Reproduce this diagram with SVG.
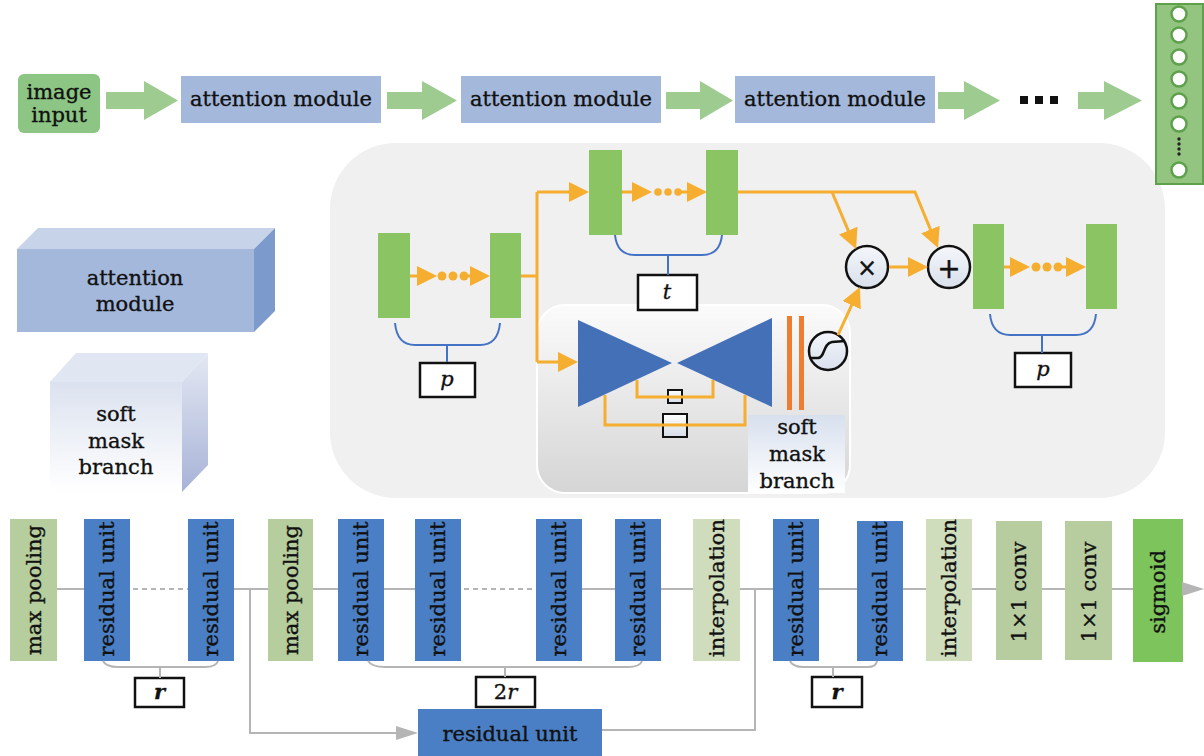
<svg xmlns="http://www.w3.org/2000/svg" width="1204" height="756" viewBox="0 0 1204 756">
<style>
text{font-family:"DejaVu Serif","Liberation Serif",serif;font-size:21px;fill:#111;stroke:#111;stroke-width:0.35;}
.c{text-anchor:middle;}
.v{text-anchor:middle;dominant-baseline:central;}
.it{font-style:italic;}
.bigarrow{fill:#9dcb90;}
.topbox{fill:#a4b8dc;}
.gbar{fill:#8bc463;}
.ol{stroke:#f5ae2f;stroke-width:3;fill:none;}
.od{fill:#f5ae2f;}
.br{stroke:#4472c4;stroke-width:2;fill:none;}
.lbl{fill:#fff;stroke:#111;stroke-width:2.5;}
.gl{stroke:#b5b5b5;stroke-width:2;fill:none;}
.gd{stroke:#b5b5b5;stroke-width:2;fill:none;stroke-dasharray:5 4;}
.ru{fill:#4a7fc5;}
.mp{fill:#b6cd9d;}
.ip{fill:#cfddbd;}
.cv{fill:#b7cda0;}
.sg{fill:#7ec45c;}
.op{fill:url(#opg);stroke:#111;stroke-width:2.5;}
</style>
<defs>
<marker id="oa" markerUnits="userSpaceOnUse" markerWidth="20" markerHeight="20" refX="16" refY="10" orient="auto"><path d="M0,0 L20,10 L0,20 z" fill="#f5ae2f"/></marker>
<marker id="ga" markerUnits="userSpaceOnUse" markerWidth="22" markerHeight="14" refX="18" refY="7" orient="auto"><path d="M0,0 L22,7 L0,14 z" fill="#b5b5b5"/></marker>
<linearGradient id="inner" x1="0" y1="0" x2="0" y2="1"><stop offset="0" stop-color="#fbfbfb"/><stop offset="1" stop-color="#d5d5d5"/></linearGradient>
<linearGradient id="smb" x1="0" y1="0" x2="0" y2="1"><stop offset="0" stop-color="#d8e0ee"/><stop offset="1" stop-color="#ffffff"/></linearGradient>
<linearGradient id="smf" x1="0" y1="0" x2="0" y2="1"><stop offset="0" stop-color="#dbe2ef"/><stop offset="1" stop-color="#ffffff"/></linearGradient>
<linearGradient id="smr" x1="0" y1="0" x2="0" y2="1"><stop offset="0" stop-color="#e4e8f3"/><stop offset="1" stop-color="#a7b3d7"/></linearGradient>
<linearGradient id="sq" x1="0" y1="0" x2="0" y2="1"><stop offset="0" stop-color="#ffffff"/><stop offset="1" stop-color="#d6dde8"/></linearGradient>
<linearGradient id="opg" x1="0" y1="0" x2="0" y2="1"><stop offset="0" stop-color="#f4f6fa"/><stop offset="1" stop-color="#d9e0ec"/></linearGradient>
</defs>
<rect width="1204" height="756" fill="#ffffff"/>

<!-- gray panel -->
<g id="panel">
<rect x="330" y="143" width="835" height="355" rx="66" fill="#f0f0f0"/>
<rect x="537" y="305" width="313" height="188" rx="28" fill="url(#inner)" stroke="#ffffff" stroke-width="2"/>
</g>

<!-- top row -->
<g id="image-input"><rect x="18" y="74" width="82" height="59" rx="6" fill="#8cc584"/><text class="c" x="59" y="99" font-size="20">image</text><text class="c" x="59" y="122" font-size="20">input</text></g>
<g id="top-arrows">
<polygon class="bigarrow" points="106,92 144,92 144,81 178,100.5 144,120 144,109 106,109"/>
<polygon class="bigarrow" points="387,92 422,92 422,81 457,100.5 422,120 422,109 387,109"/>
<polygon class="bigarrow" points="666,92 700,92 700,81 733,100.5 700,120 700,109 666,109"/>
<polygon class="bigarrow" points="938,92 964,92 964,81 1000,100.5 964,120 964,109 938,109"/>
<polygon class="bigarrow" points="1078,92 1104,92 1104,81 1142,100.5 1104,120 1104,109 1078,109"/>
</g>
<g id="attention-1"><rect class="topbox" x="181" y="76" width="200" height="47"/><text class="c" x="281" y="106">attention module</text></g>
<g id="attention-2"><rect class="topbox" x="461" y="76" width="200" height="47"/><text class="c" x="561" y="106">attention module</text></g>
<g id="attention-3"><rect class="topbox" x="735" y="76" width="200" height="47"/><text class="c" x="835" y="106">attention module</text></g>
<g id="ellipsis" fill="#111"><rect x="1020" y="96" width="8" height="8"/><rect x="1035" y="96" width="8" height="8"/><rect x="1050" y="96" width="8" height="8"/></g>
<g id="output-vector">
<rect x="1156" y="4" width="47" height="180" fill="#93c580" stroke="#5fa04d" stroke-width="2"/>
<g fill="#fff" stroke="#5fa04d" stroke-width="2.5">
<circle cx="1179" cy="14" r="7.5"/><circle cx="1179" cy="35" r="7.5"/><circle cx="1179" cy="57" r="7.5"/><circle cx="1179" cy="79" r="7.5"/><circle cx="1179" cy="101" r="7.5"/><circle cx="1179" cy="124" r="7.5"/><circle cx="1179" cy="170" r="7.5"/>
</g>
<g fill="#222"><circle cx="1179" cy="139" r="1.7"/><circle cx="1179" cy="144" r="1.7"/><circle cx="1179" cy="149" r="1.7"/><circle cx="1179" cy="154" r="1.7"/></g>
</g>

<!-- left legend 3D boxes -->
<g id="legend-attention">
<polygon points="17,249 38,228 275,228 254,249" fill="#c6d3e9"/>
<polygon points="254,249 275,228 275,311 254,332" fill="#7c9bcc"/>
<rect x="17" y="249" width="237" height="83" fill="#a4b8dc"/>
<text class="c" x="135" y="285">attention</text><text class="c" x="135" y="311">module</text>
</g>
<g id="legend-soft-mask">
<polygon points="50,382 76,353 208,353 182,382" fill="#e0e6f2"/>
<polygon points="182,382 208,353 208,465 182,492" fill="url(#smr)"/>
<rect x="50" y="382" width="132" height="110" fill="url(#smf)"/>
<text class="c" x="116" y="421">soft</text><text class="c" x="116" y="448">mask</text><text class="c" x="116" y="474">branch</text>
</g>

<g id="bar1"><rect class="gbar" x="378" y="233" width="32" height="85"/></g>
<g id="bar2"><rect class="gbar" x="490" y="233" width="31" height="85"/></g>
<g id="barA"><rect class="gbar" x="589" y="150" width="33" height="85"/></g>
<g id="barB"><rect class="gbar" x="706" y="150" width="32" height="85"/></g>
<g id="barC"><rect class="gbar" x="973" y="224" width="31" height="85"/></g>
<g id="barD"><rect class="gbar" x="1086" y="224" width="31" height="85"/></g>
<g id="bowtie" fill="#4470b7"><polygon points="578,320 578,407 672,363"/><polygon points="677,363 772,318 772,407"/></g>
<g id="orange-bars" fill="#ec7d31"><rect x="787" y="316" width="5" height="94"/><rect x="799" y="316" width="5" height="94"/></g>
<g id="skip-small-box"><rect x="668" y="390" width="14" height="13" fill="url(#sq)" stroke="#111" stroke-width="2"/></g>
<g id="skip-big-box"><rect x="663" y="414" width="24" height="23" fill="url(#sq)" stroke="#111" stroke-width="2"/></g>
<g id="sigmoid-op"><circle cx="828" cy="351" r="19" class="op"/><path d="M810,358 L818,358 C825,358 823,343 832,342 L845,341" fill="none" stroke="#111" stroke-width="2.5"/></g>
<g id="mul-op"><circle cx="867" cy="267" r="21" class="op"/><text x="867" y="268" class="v" style="font-family:'DejaVu Sans',sans-serif;font-size:24px">×</text></g>
<g id="add-op"><circle cx="949" cy="267" r="21" class="op"/><text x="949" y="268" class="v" style="font-family:'DejaVu Sans',sans-serif;font-size:28px">+</text></g>
<g id="soft-mask-label">
<rect x="748" y="415" width="97" height="78" fill="url(#smb)"/>
<text class="c" x="797" y="434">soft</text><text class="c" x="797" y="461">mask</text><text class="c" x="797" y="488">branch</text>
</g>
<g id="label-p1"><rect class="lbl" x="420" y="363" width="55" height="34"/><text class="c it" x="447" y="386">p</text></g>
<g id="label-t"><rect class="lbl" x="638" y="275" width="59" height="35"/><text class="c it" x="667" y="299">t</text></g>
<g id="label-p2"><rect class="lbl" x="1015" y="353" width="56" height="34"/><text class="c it" x="1043" y="376">p</text></g>

<!-- bottom row -->
<g id="mp1"><rect class="mp" x="10" y="519" width="47" height="142"/><text class="v" transform="translate(33.5,590) rotate(-90)">max pooling</text></g>
<g id="ru1"><rect class="ru" x="84" y="519" width="46" height="142"/><text class="v" transform="translate(107,589) rotate(-90)">residual unit</text></g>
<g id="ru2"><rect class="ru" x="188" y="519" width="46" height="142"/><text class="v" transform="translate(211,589) rotate(-90)">residual unit</text></g>
<g id="mp2"><rect class="mp" x="268" y="519" width="45" height="142"/><text class="v" transform="translate(290.5,590) rotate(-90)">max pooling</text></g>
<g id="ru3"><rect class="ru" x="338" y="519" width="46" height="142"/><text class="v" transform="translate(361,589) rotate(-90)">residual unit</text></g>
<g id="ru4"><rect class="ru" x="415" y="519" width="46" height="142"/><text class="v" transform="translate(438,589) rotate(-90)">residual unit</text></g>
<g id="ru5"><rect class="ru" x="536" y="519" width="46" height="142"/><text class="v" transform="translate(559,589) rotate(-90)">residual unit</text></g>
<g id="ru6"><rect class="ru" x="615" y="519" width="46" height="142"/><text class="v" transform="translate(638,589) rotate(-90)">residual unit</text></g>
<g id="int1"><rect class="ip" x="693" y="519" width="47" height="142"/><text class="v" transform="translate(716.5,588) rotate(-90)">interpolation</text></g>
<g id="ru7"><rect class="ru" x="773" y="519" width="46" height="142"/><text class="v" transform="translate(796,589) rotate(-90)">residual unit</text></g>
<g id="ru8"><rect class="ru" x="857" y="521" width="46" height="140"/><text class="v" transform="translate(880,589) rotate(-90)">residual unit</text></g>
<g id="int2"><rect class="ip" x="926" y="519" width="46" height="142"/><text class="v" transform="translate(949,588) rotate(-90)">interpolation</text></g>
<g id="conv1"><rect class="cv" x="996" y="521" width="46" height="139"/><text class="v" transform="translate(1019,592) rotate(-90)">1×1 conv</text></g>
<g id="conv2"><rect class="cv" x="1065" y="521" width="47" height="139"/><text class="v" transform="translate(1088.5,592) rotate(-90)">1×1 conv</text></g>
<g id="sigmoid"><rect class="sg" x="1133" y="519" width="50" height="143"/><text class="v" transform="translate(1158,592) rotate(-90)">sigmoid</text></g>
<g id="ru-big"><rect class="ru" x="418" y="709" width="184" height="47"/><text class="c" x="510" y="741">residual unit</text></g>
<g id="label-r1"><rect class="lbl" x="135" y="678" width="49" height="29"/><text class="c it" x="159.5" y="699" font-weight="bold">r</text></g>
<g id="label-2r"><rect class="lbl" x="476" y="677" width="59" height="30"/><text class="c" x="505.5" y="699">2<tspan class="it">r</tspan></text></g>
<g id="label-r2"><rect class="lbl" x="812" y="677" width="50" height="30"/><text class="c it" x="837" y="699" font-weight="bold">r</text></g>

<!-- connectors -->
<g id="connectors">
<path class="ol" d="M410,276 L433,276" marker-end="url(#oa)"/>
<path class="ol" d="M463,276 L486,276" marker-end="url(#oa)"/>
<g class="od"><circle cx="442" cy="276" r="4.5"/><circle cx="453" cy="276" r="4.5"/><circle cx="464" cy="276" r="4.5"/></g>
<path class="ol" d="M622,192 L648,192" marker-end="url(#oa)"/>
<path class="ol" d="M678,192 L703,192" marker-end="url(#oa)"/>
<g class="od"><circle cx="658" cy="192" r="3.8"/><circle cx="668" cy="192" r="3.8"/><circle cx="678" cy="192" r="3.8"/></g>
<path class="ol" d="M1004,267 L1026,267" marker-end="url(#oa)"/>
<path class="ol" d="M1058,267 L1082,267" marker-end="url(#oa)"/>
<g class="od"><circle cx="1036" cy="267" r="4.5"/><circle cx="1047" cy="267" r="4.5"/><circle cx="1058" cy="267" r="4.5"/></g>
<path class="ol" d="M521,276 L537,276"/>
<path class="ol" d="M537,192 L537,362"/>
<path class="ol" d="M537,192 L585,192" marker-end="url(#oa)"/>
<path class="ol" d="M537,362 L574,362" marker-end="url(#oa)"/>
<path class="ol" d="M738,192 L915,192 L936.5,244.3" marker-end="url(#oa)"/>
<path class="ol" d="M832,192 L854.5,245.3" marker-end="url(#oa)"/>
<path class="ol" d="M889,267 L924,267" marker-end="url(#oa)"/>
<path class="ol" d="M838,335 L858.3,290.6" marker-end="url(#oa)"/>
<path class="ol" d="M637,380 L637,397 L713,397 L713,380"/>
<path class="ol" d="M605,395 L605,425 L745,425 L745,395"/>
<path class="br" d="M395,323 Q397,345 415,345 L480,345 Q498,345 500,323 M447,345 L447,362"/>
<path class="br" d="M615,235 Q617,255 635,255 L702,255 Q720,255 722,235 M668,255 L668,275"/>
<path class="br" d="M990,314 Q992,335 1010,335 L1076,335 Q1094,335 1096,314 M1042,335 L1042,353"/>
<path class="gl" d="M57,589 L84,589 M234,589 L268,589 M313,589 L338,589 M384,589 L415,589 M582,589 L615,589 M661,589 L693,589 M740,589 L773,589 M819,589 L857,589 M903,589 L926,589 M972,589 L996,589 M1042,589 L1065,589 M1112,589 L1133,589"/>
<path class="gd" d="M133,589 L188,589 M464,589 L536,589"/>
<path class="gl" d="M1183,589 L1200,589" marker-end="url(#ga)"/>
<path class="gl" d="M250,589 L250,733 L414,733" marker-end="url(#ga)"/>
<path class="gl" d="M602,730 L755,730 L755,589"/>
<path class="gl" d="M103,661 Q106,667 118,667 L205,667 Q216,667 218,661 M160,667 L160,678"/>
<path class="gl" d="M368,661 Q372,667 385,667 L628,667 Q640,667 642,661 M505,667 L505,677"/>
<path class="gl" d="M790,661 Q793,667 803,667 L868,667 Q876,667 877,661 M833,667 L833,677"/>
</g>
</svg>
